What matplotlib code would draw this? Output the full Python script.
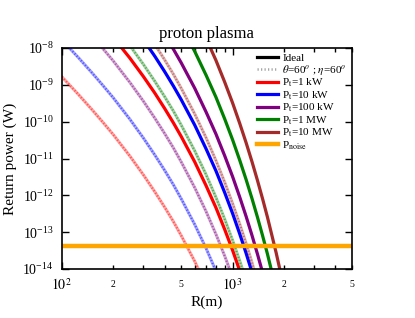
import numpy as np
import matplotlib
matplotlib.use("Agg")
import matplotlib.pyplot as plt
from matplotlib.ticker import LogLocator, FixedLocator, FixedFormatter

plt.rcParams['font.family'] = ['Liberation Serif', 'DejaVu Serif']
plt.rcParams['mathtext.fontset'] = 'stix'

R = [100, 125, 150, 175, 200, 250, 300, 350, 400, 450, 500, 600, 700, 800,
     900, 1000, 1100, 1200, 1300, 1400, 1500, 1600, 1800, 2000]

# log10 of return power (W) for Pt = 1 kW, ideal
log_ideal_1kw = [-6.16, -6.63, -7.03, -7.39, -7.71, -8.27, -8.77, -9.22, -9.64, -10.03,
                 -10.40, -11.09, -11.74, -12.34, -12.93, -13.49, -14.04, -14.57, -15.09,
                 -15.60, -16.10, -16.59, -17.56, -18.51]
# log10 of return power (W) for Pt = 1 kW, theta=60, eta=60
log_angle_1kw = [-8.78, -9.26, -9.67, -10.03, -10.35, -10.93, -11.44, -11.90, -12.32, -12.71,
                 -13.09, -13.79, -14.44, -15.06, -15.65, -16.22, -16.77, -17.30, -17.83,
                 -18.34, -18.85, -19.35, -20.33, -21.30]

pt_kw = [1, 10, 100, 1000, 10000]
pt_labels = ["P$_\\mathrm{t}$=1 kW", "P$_\\mathrm{t}$=10 kW", "P$_\\mathrm{t}$=100 kW",
             "P$_\\mathrm{t}$=1 MW", "P$_\\mathrm{t}$=10 MW"]
colors = ["#ff0000", "#0000ff", "#800080", "#008000", "#a52a2a"]
p_noise = 4.25e-14

R = np.array(R)
ideal = 10 ** np.array(log_ideal_1kw)
angle = 10 ** np.array(log_angle_1kw)

fig = plt.figure(figsize=(4.15, 3.18), dpi=100)
ax = fig.add_axes([0.149, 0.154, 0.699, 0.695])

handles = []
for pt, lab, c in zip(pt_kw, pt_labels, colors):
    # hatched look of the angled curves: pale band + fine dots
    ax.plot(R, angle * pt, color=c, lw=2.2, alpha=0.35)
    ax.plot(R, angle * pt, color=c, lw=1.6, alpha=0.5, linestyle=(0, (0.5, 0.9)))
    h, = ax.plot(R, ideal * pt, color=c, lw=2.3)
    handles.append(h)

hn = ax.axhline(p_noise, color="#ffa500", lw=3.2)

ax.set_xscale("log")
ax.set_yscale("log")
ax.set_xlim(100, 5000)
ax.set_ylim(1e-14, 1e-8)

ax.xaxis.set_major_locator(FixedLocator([100, 1000]))
ax.xaxis.set_major_formatter(FixedFormatter(["$10^2$", "$10^3$"]))
minor = [200, 300, 400, 500, 600, 700, 800, 900, 2000, 3000, 4000, 5000]
minor_lab = ["2", "", "", "5", "", "", "", "", "2", "", "", "5"]
ax.xaxis.set_minor_locator(FixedLocator(minor))
ax.xaxis.set_minor_formatter(FixedFormatter(minor_lab))
ax.yaxis.set_major_locator(LogLocator(base=10, numticks=10))
ax.yaxis.set_minor_locator(FixedLocator([]))

ax.tick_params(which="both", direction="in", top=True, right=True, width=1)
ax.tick_params(which="major", length=5, labelsize=10, pad=6)
ax.tick_params(axis="x", which="minor", length=3, labelsize=7, pad=8)
for s in ax.spines.values():
    s.set_linewidth(1.2)

ax.set_xlabel("R(m)", fontsize=11, labelpad=2)
ax.set_ylabel("Return power (W)", fontsize=11, labelpad=4)
ax.set_title("proton plasma", fontsize=12, pad=7)

h_ideal, = ax.plot([], [], color="black", lw=2.3)
h_ang, = ax.plot([], [], color="gray", lw=1.8, alpha=0.7, linestyle=(0, (0.5, 0.9)))
ax.legend([h_ideal, h_ang] + handles + [hn],
          ["Ideal", r"$\theta$=60$^o$ ; $\eta$=60$^o$"] + pt_labels + ["P$_\\mathrm{noise}$"],
          loc="upper right", frameon=False, fontsize=8, handlelength=1.9,
          handletextpad=0.4, labelspacing=0.0, borderaxespad=0.15, borderpad=0.3)

fig.savefig("out.png", dpi=100)
